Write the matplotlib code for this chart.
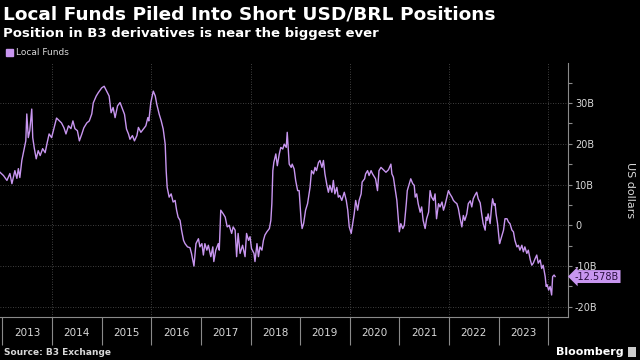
import matplotlib.pyplot as plt
from matplotlib.patches import Patch, Rectangle
from matplotlib.ticker import FixedLocator, FuncFormatter, NullFormatter

# position of local funds in B3 USD/BRL derivatives, USD billions
dates = [2012.95, 2013.02, 2013.09, 2013.15, 2013.19, 2013.25, 2013.29, 2013.32, 2013.35, 2013.39,
         2013.43, 2013.47, 2013.49, 2013.52, 2013.55, 2013.59, 2013.61, 2013.64, 2013.68, 2013.72,
         2013.76, 2013.81, 2013.86, 2013.90, 2013.94, 2013.99, 2014.04, 2014.09, 2014.15, 2014.19,
         2014.24, 2014.28, 2014.33, 2014.38, 2014.42, 2014.46, 2014.51, 2014.55, 2014.60, 2014.64,
         2014.70, 2014.75, 2014.80, 2014.83, 2014.89, 2014.93, 2015.00, 2015.05, 2015.10, 2015.15,
         2015.19, 2015.23, 2015.27, 2015.32, 2015.37, 2015.42, 2015.46, 2015.50, 2015.54, 2015.57,
         2015.62, 2015.66, 2015.71, 2015.74, 2015.79, 2015.84, 2015.89, 2015.93, 2015.95, 2015.99,
         2016.04, 2016.08, 2016.11, 2016.16, 2016.20, 2016.24, 2016.28, 2016.30, 2016.32, 2016.36,
         2016.40, 2016.44, 2016.48, 2016.51, 2016.54, 2016.58, 2016.61, 2016.65, 2016.68, 2016.73,
         2016.78, 2016.81, 2016.86, 2016.90, 2016.95, 2016.98, 2017.02, 2017.05, 2017.08, 2017.12,
         2017.15, 2017.20, 2017.24, 2017.26, 2017.30, 2017.35, 2017.37, 2017.40, 2017.45, 2017.49,
         2017.53, 2017.57, 2017.62, 2017.65, 2017.69, 2017.72, 2017.75, 2017.79, 2017.84, 2017.89,
         2017.92, 2017.96, 2017.99, 2018.02, 2018.07, 2018.09, 2018.13, 2018.16, 2018.19, 2018.23,
         2018.26, 2018.29, 2018.33, 2018.38, 2018.41, 2018.43, 2018.45, 2018.47, 2018.51, 2018.54,
         2018.58, 2018.61, 2018.65, 2018.68, 2018.72, 2018.74, 2018.78, 2018.82, 2018.84, 2018.88,
         2018.91, 2018.95, 2018.98, 2019.02, 2019.04, 2019.07, 2019.11, 2019.15, 2019.20, 2019.23,
         2019.27, 2019.30, 2019.33, 2019.37, 2019.40, 2019.44, 2019.47, 2019.50, 2019.54, 2019.57,
         2019.60, 2019.64, 2019.67, 2019.70, 2019.74, 2019.77, 2019.80, 2019.84, 2019.89, 2019.93,
         2019.96, 2019.99, 2020.03, 2020.05, 2020.09, 2020.12, 2020.16, 2020.19, 2020.23, 2020.25,
         2020.30, 2020.32, 2020.36, 2020.39, 2020.43, 2020.46, 2020.50, 2020.52, 2020.56, 2020.59,
         2020.63, 2020.68, 2020.73, 2020.78, 2020.83, 2020.85, 2020.88, 2020.91, 2020.95, 2020.98,
         2021.00, 2021.03, 2021.07, 2021.10, 2021.14, 2021.16, 2021.20, 2021.23, 2021.27, 2021.30,
         2021.32, 2021.35, 2021.38, 2021.42, 2021.45, 2021.48, 2021.52, 2021.55, 2021.59, 2021.62,
         2021.65, 2021.69, 2021.72, 2021.75, 2021.79, 2021.82, 2021.86, 2021.89, 2021.92, 2021.96,
         2021.99, 2022.02, 2022.06, 2022.09, 2022.12, 2022.16, 2022.19, 2022.22, 2022.26, 2022.29,
         2022.32, 2022.36, 2022.39, 2022.43, 2022.46, 2022.49, 2022.53, 2022.56, 2022.59, 2022.63,
         2022.66, 2022.69, 2022.73, 2022.75, 2022.77, 2022.79, 2022.83, 2022.86, 2022.88, 2022.91,
         2022.93, 2022.95, 2022.98, 2023.02, 2023.04, 2023.07, 2023.10, 2023.13, 2023.17, 2023.20,
         2023.23, 2023.27, 2023.30, 2023.33, 2023.37, 2023.40, 2023.43, 2023.47, 2023.50, 2023.53,
         2023.57, 2023.60, 2023.64, 2023.67, 2023.70, 2023.74, 2023.77, 2023.80, 2023.84, 2023.87,
         2023.90, 2023.94, 2023.96, 2023.98, 2024.01, 2024.04, 2024.07, 2024.09, 2024.12, 2024.14]
funds = [13.0, 12.2, 11.0, 12.7, 10.2, 13.4, 11.5, 13.9, 11.7, 15.9,
         18.3, 20.7, 27.3, 21.5, 23.2, 28.5, 21.5, 19.0, 16.3, 18.3,
         17.1, 18.8, 17.8, 20.2, 22.4, 21.5, 23.9, 26.3, 25.6, 25.1,
         23.9, 22.4, 24.4, 23.7, 25.6, 23.7, 23.2, 20.7, 22.4, 23.9,
         25.1, 25.6, 27.3, 30.0, 31.7, 32.5, 33.7, 34.1, 32.9, 31.7,
         27.6, 28.9, 26.4, 29.3, 30.1, 28.5, 27.2, 23.6, 22.4, 21.1,
         22.0, 20.7, 22.0, 24.0, 22.8, 23.6, 24.4, 26.4, 25.6, 30.1,
         32.9, 31.7, 29.7, 27.2, 25.6, 23.6, 19.9, 13.4, 9.3, 6.9,
         7.7, 5.7, 6.1, 3.7, 2.0, 1.2, -1.2, -3.7, -4.5, -5.3,
         -5.5, -6.9, -10.0, -4.5, -3.3, -5.3, -4.5, -7.3, -4.5, -6.1,
         -4.9, -7.7, -5.3, -8.9, -6.1, -4.5, -6.1, 3.7, 2.8, 2.0,
         -0.4, 0.0, -2.0, -0.4, -1.2, -7.7, -2.0, -6.9, -4.9, -7.7,
         -2.0, -3.7, -2.8, -5.7, -6.9, -8.9, -4.5, -7.7, -5.3, -6.1,
         -3.7, -2.4, -1.6, -0.8, 1.2, 5.3, 13.4, 15.4, 17.5, 14.6,
         17.5, 19.1, 18.7, 19.9, 19.1, 22.8, 15.0, 14.2, 15.0, 13.8,
         11.0, 8.5, 8.5, 1.2, -0.8, 0.4, 3.7, 5.3, 9.3, 13.4,
         12.6, 14.2, 13.4, 15.4, 15.9, 14.2, 15.9, 12.6, 9.8, 8.1,
         9.8, 8.1, 11.0, 7.7, 9.3, 6.9, 7.3, 6.1, 8.1, 6.1,
         3.7, -0.4, -2.0, -0.4, 2.8, 6.1, 3.7, 6.1, 7.7, 10.6,
         11.4, 12.6, 13.4, 12.2, 13.4, 12.6, 11.8, 11.4, 8.5, 13.4,
         14.2, 13.6, 13.0, 13.6, 15.0, 12.6, 11.8, 9.3, 6.1, 1.6,
         -1.6, 0.4, -0.8, 0.0, 5.3, 8.5, 10.2, 11.4, 10.2, 9.8,
         6.9, 7.7, 5.3, 3.2, 4.5, 1.2, -0.8, 1.6, 3.2, 8.5,
         6.9, 6.1, 7.7, 1.6, 5.3, 4.5, 5.7, 3.7, 4.9, 6.9,
         8.5, 7.7, 6.9, 6.1, 5.7, 5.3, 4.1, 2.0, -0.4, 2.4,
         1.2, 2.8, 5.3, 6.0, 4.5, 6.5, 7.5, 8.1, 6.5, 5.5,
         2.8, 0.4, -1.2, 2.0, 1.2, 2.8, 0.4, 4.5, 6.5, 4.9,
         5.3, 2.8, 0.4, -4.5, -3.7, -2.4, -1.2, 1.6, 1.6, 0.8,
         0.4, -1.2, -1.6, -3.7, -5.3, -4.9, -6.1, -4.9, -6.5, -5.3,
         -6.9, -6.1, -8.5, -9.8, -9.3, -8.1, -7.3, -9.3, -8.5, -10.6,
         -9.8, -12.6, -15.0, -14.6, -15.9, -15.0, -17.1, -12.6, -12.2, -12.578]

year_labels = ['2013', '2014', '2015', '2016', '2017', '2018',
               '2019', '2020', '2021', '2022', '2023']
y_ticks = [-20, -10, 0, 10, 20, 30]
last_value = '-12.578B'

purple = '#c896f0'
grey = '#8a8a8a'
text_col = '#d8d8d8'

fig = plt.figure(figsize=(6.4, 3.6), dpi=100, facecolor='black')
ax = fig.add_axes([0, 0.1194, 0.8875, 0.7056], facecolor='black')

ax.plot(dates, funds, color=purple, lw=1.0)
ax.set_xlim(2012.95, 2024.40)
ax.set_ylim(-22.5, 39.8)

# spines: only bottom + right
for s in ['top', 'left']:
    ax.spines[s].set_visible(False)
for s in ['bottom', 'right']:
    ax.spines[s].set_color(grey)
    ax.spines[s].set_linewidth(0.8)

# y axis on the right
ax.yaxis.tick_right()
ax.yaxis.set_major_locator(FixedLocator(y_ticks))
ax.yaxis.set_minor_locator(FixedLocator([v + 5 for v in y_ticks]))
ax.yaxis.set_major_formatter(FuncFormatter(lambda v, p: '0' if v == 0 else f'{v:.0f}B'))
ax.tick_params(axis='y', which='both', colors=grey, labelcolor=text_col, labelsize=7,
               length=3, width=0.8, pad=2)
ax.grid(axis='y', color='#555555', ls=(0, (1, 2)), lw=0.6)
ax.set_ylabel('US dollars', rotation=270, color=text_col, fontsize=8, labelpad=27)
ax.yaxis.set_label_position('right')

# x axis: long separators at year starts, labels centred on each year
starts = list(range(2013, 2025))
ax.xaxis.set_major_locator(FixedLocator(starts))
ax.xaxis.set_major_formatter(NullFormatter())
ax.xaxis.set_minor_locator(FixedLocator([int(y) + 0.5 for y in year_labels]))
ax.xaxis.set_minor_formatter(FuncFormatter(lambda v, p: str(int(v))))
ax.tick_params(axis='x', which='major', colors=grey, length=20, width=0.8)
ax.tick_params(axis='x', which='minor', length=0, labelsize=7.5, labelcolor=text_col, pad=8)
for yr in starts[1::2]:
    ax.axvline(yr, color='#555555', ls=(0, (1, 2)), lw=0.6, zorder=0)

# last value tag
ax.text(1.012, funds[-1], last_value, transform=ax.get_yaxis_transform(), fontsize=7,
        color='#2a1040', va='center', ha='left',
        bbox=dict(boxstyle='larrow,pad=0.15', fc=purple, ec='none'))

# titles, legend, footer
fig.text(0.004, 0.961, 'Local Funds Piled Into Short USD/BRL Positions', color='white',
         fontsize=13.3, fontweight='bold', va='center')
fig.text(0.004, 0.908, 'Position in B3 derivatives is near the biggest ever', color='white',
         fontsize=9.5, fontweight='bold', va='center')
fig.legend(handles=[Patch(color=purple, label='Local Funds')], loc='center left',
           bbox_to_anchor=(-0.004, 0.853), frameon=False, fontsize=6.5, labelcolor=text_col,
           handlelength=0.8, handleheight=0.8, handletextpad=0.4)
fig.text(0.006, 0.022, 'Source: B3 Exchange', color=text_col, fontsize=6.5,
         fontweight='bold', va='center')
fig.text(0.975, 0.022, 'Bloomberg', color='white', fontsize=8, fontweight='bold',
         va='center', ha='right')
fig.patches.append(Rectangle((0.981, 0.008), 0.013, 0.028, transform=fig.transFigure,
                             fc='#cccccc', ec='none'))

fig.savefig('out.png', dpi=100, facecolor='black')
